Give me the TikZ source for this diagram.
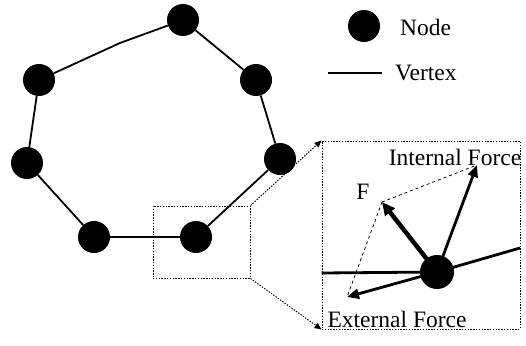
\documentclass[tikz,border=0pt]{standalone}
\usepackage{fontspec}
\setmainfont{Liberation Serif}
\usetikzlibrary{arrows.meta}
\begin{document}
\begin{tikzpicture}[x=1pt,y=-1pt,
  dot/.style={circle,fill=black,inner sep=0pt,minimum size=32pt},
  bigdot/.style={circle,fill=black,inner sep=0pt,minimum size=34pt},
  edge/.style={line width=1.8pt},
  thickedge/.style={line width=2.8pt},
  zoombox/.style={dash pattern=on 1.4pt off 1.4pt,line width=1pt},
  zoomarrow/.style={dash pattern=on 1.4pt off 1.4pt,line width=1pt,-{Triangle[length=7pt,width=6pt]}},
  force/.style={line width=2.8pt,-{Triangle[length=12pt,width=10pt]}},
  fforce/.style={line width=4.5pt,-{Triangle[length=13pt,width=12pt]}},
  para/.style={dashed,line width=0.8pt},
  lbl/.style={font=\fontsize{23.5}{26}\selectfont,inner sep=0pt}]
\useasboundingbox (0,0) rectangle (526,345);
% graph nodes
\node[dot] (n1) at (183,20) {};
\node[dot] (n2) at (256,80) {};
\node[dot] (n3) at (280,159) {};
\node[dot] (n4) at (196,237) {};
\node[dot] (n5) at (94,237) {};
\node[dot] (n6) at (27,163) {};
\node[dot] (n7) at (39,80) {};
\coordinate (k) at (120,43);
\draw[edge] (n7) -- (k) -- (n1);
\draw[edge] (n1) -- (n2);
\draw[edge] (n2) -- (n3);
\draw[edge] (n3) -- (n4);
\draw[edge] (n4) -- (n5);
\draw[edge] (n5) -- (n6);
\draw[edge] (n6) -- (n7);
% small zoom box
\node[zoombox,draw,minimum width=97pt,minimum height=72pt,inner sep=0pt] (sb) at (201.5,242) {};
% big zoom box
\node[zoombox,draw,minimum width=198pt,minimum height=188pt,inner sep=0pt] (bb) at (421,235) {};
\draw[zoomarrow] (sb.north east) -- (bb.north west);
\draw[zoomarrow] (sb.south east) -- (bb.south west);
% legend
\node[dot] (ln) at (364,26) {};
\node[lbl,anchor=west] (lnt) at (400,27) {Node};
\coordinate (lv1) at (328,73);
\coordinate (lv2) at (382,73);
\draw[edge] (lv1) -- (lv2);
\node[lbl,anchor=west] (lvt) at (395,73) {Vertex};
% zoomed node
\node[bigdot] (z) at (437,272) {};
\coordinate (zl) at (bb.west |- 0,273);
\coordinate (zr) at (520,248);
\draw[thickedge] (zl) -- (z.center);
\draw[thickedge] (z.center) -- (zr);
\coordinate (ft) at (382,202);
\coordinate (it) at (477,165);
\coordinate (et) at (347,297);
\draw[para] (ft) -- (it);
\draw[para] (ft) -- (et);
\draw[fforce] (z.center) -- (ft);
\draw[force] (z.center) -- (it);
\draw[force] (z.center) -- (et);
\node[lbl] (fl) at (363,192) {F};
\node[lbl] (il) at (455,157) {Internal Force};
\node[lbl] (el) at (397,319) {External Force};
\end{tikzpicture}
\end{document}
